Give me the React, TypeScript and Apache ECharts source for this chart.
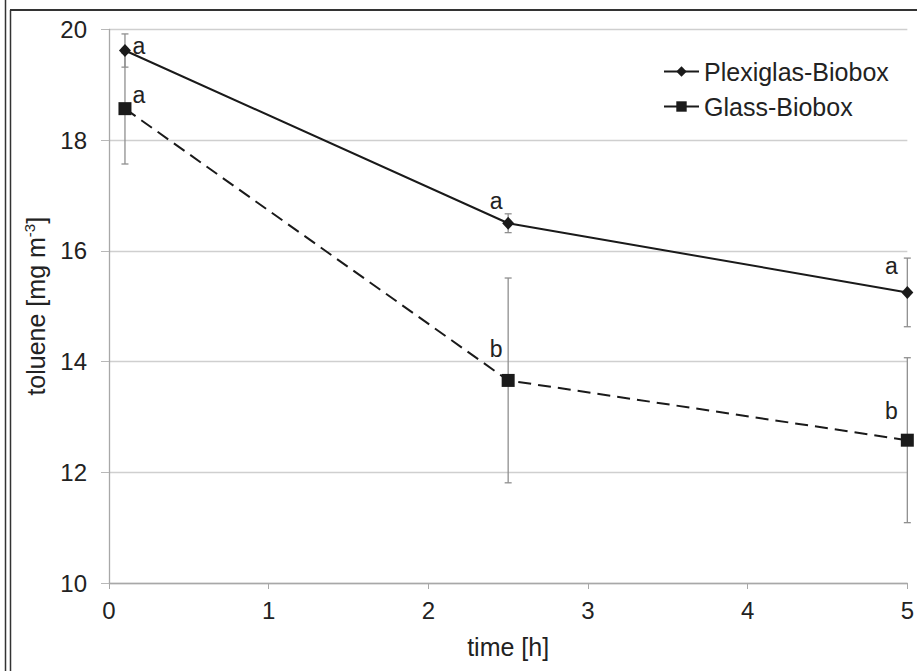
import React, { useEffect, useRef } from "react";
import * as echarts from "echarts";

const xValues = [0.1, 2.5, 5];
const plexiMean = [19.62, 16.5, 15.25];
const plexiErr = [0.3, 0.17, 0.62];
const glassMean = [18.57, 13.66, 12.58];
const glassErr = [1.0, 1.85, 1.49];
const plexiLetters = ["a", "a", "a"];
const glassLetters = ["a", "b", "b"];
const seriesNames = ["Plexiglas-Biobox", "Glass-Biobox"];
const xAxisTitle = "time [h]";

const plexiOffsets = [[14, -5], [-12, -22], [-16, -26]];
const glassOffsets = [[14, -14], [-12, -31], [-16, -29]];

const FONT = "'Liberation Sans', Arial, sans-serif";
const TEXT = "#222";

function errRender(params: any, api: any) {
  const x = api.value(0);
  const lo = api.value(1);
  const hi = api.value(2);
  const pLo = api.coord([x, lo]);
  const pHi = api.coord([x, hi]);
  const cap = 3.5;
  const style = { stroke: "#8f8f8f", lineWidth: 1.3 };
  return {
    type: "group",
    children: [
      { type: "line", shape: { x1: pLo[0], y1: pLo[1], x2: pHi[0], y2: pHi[1] }, style },
      { type: "line", shape: { x1: pLo[0] - cap, y1: pLo[1], x2: pLo[0] + cap, y2: pLo[1] }, style },
      { type: "line", shape: { x1: pHi[0] - cap, y1: pHi[1], x2: pHi[0] + cap, y2: pHi[1] }, style },
    ],
  };
}

export default function App() {
  const ref = useRef<HTMLDivElement>(null);
  useEffect(() => {
    if (!ref.current) return;
    const chart = echarts.init(ref.current, undefined, { renderer: "svg" });
    const mkData = (means: number[], letters: string[], offs: number[][]) =>
      xValues.map((x, i) => ({
        value: [x, means[i]],
        label: {
          show: true,
          formatter: letters[i],
          position: "inside",
          offset: offs[i],
          fontSize: 23,
          fontFamily: FONT,
          color: TEXT,
        },
      }));
    const errData = (means: number[], errs: number[]) =>
      xValues.map((x, i) => [x, means[i] - errs[i], means[i] + errs[i]]);
    chart.setOption({
      animation: false,
      backgroundColor: "#fff",
      textStyle: { fontFamily: FONT },
      grid: { left: 109, right: 9, top: 29.5, bottom: 88, containLabel: false },
      legend: {
        orient: "vertical",
        left: 658,
        top: 54,
        itemWidth: 35,
        itemHeight: 13,
        itemGap: 10,
        textStyle: { fontSize: 25, color: TEXT, fontFamily: FONT },
        lineStyle: { type: "solid", width: 2 },
        data: seriesNames,
      },
      xAxis: {
        type: "value",
        min: 0,
        max: 5,
        interval: 1,
        name: xAxisTitle,
        nameLocation: "middle",
        nameGap: 51,
        nameTextStyle: { fontSize: 25, color: TEXT, fontFamily: FONT },
        axisLine: { show: true, lineStyle: { color: "#a8a8a8", width: 1.3 } },
        axisTick: { show: true, length: 6, lineStyle: { color: "#a8a8a8" } },
        axisLabel: { fontSize: 24, color: TEXT, margin: 15, fontFamily: FONT },
        splitLine: { show: false },
      },
      yAxis: {
        type: "value",
        min: 10,
        max: 20,
        interval: 2,
        name: "{a|toluene [mg m}{s|-3}{a|]}",
        nameLocation: "middle",
        nameGap: 60,
        nameRotate: 90,
        nameTextStyle: {
          rich: {
            a: { fontSize: 25, color: TEXT, fontFamily: FONT },
            s: { fontSize: 15, color: TEXT, fontFamily: FONT, padding: [0, 0, 12, 0] },
          },
        },
        axisLine: { show: true, lineStyle: { color: "#a8a8a8", width: 1.3 } },
        axisTick: { show: true, length: 8, lineStyle: { color: "#b8b8b8" } },
        axisLabel: { fontSize: 24, color: TEXT, margin: 22, fontFamily: FONT },
        splitLine: { show: true, lineStyle: { color: "#cfcfcf", width: 1.3 } },
      },
      series: [
        {
          type: "custom",
          name: "err-plexi",
          renderItem: errRender,
          data: errData(plexiMean, plexiErr),
          encode: { x: 0, y: [1, 2] },
          z: 1,
          silent: true,
        },
        {
          type: "custom",
          name: "err-glass",
          renderItem: errRender,
          data: errData(glassMean, glassErr),
          encode: { x: 0, y: [1, 2] },
          z: 1,
          silent: true,
        },
        {
          type: "line",
          name: seriesNames[0],
          data: mkData(plexiMean, plexiLetters, plexiOffsets),
          symbol: "diamond",
          symbolSize: [12, 13],
          showAllSymbol: true,
          itemStyle: { color: "#1a1a1a" },
          lineStyle: { color: "#1a1a1a", width: 2, type: "solid" },
          z: 3,
        },
        {
          type: "line",
          name: seriesNames[1],
          data: mkData(glassMean, glassLetters, glassOffsets),
          symbol: "rect",
          symbolSize: 13,
          showAllSymbol: true,
          itemStyle: { color: "#1a1a1a" },
          lineStyle: { color: "#1a1a1a", width: 2, type: [13, 7] },
          z: 3,
        },
      ],
      graphic: [
        { type: "line", shape: { x1: 5.5, y1: 0, x2: 5.5, y2: 671 }, style: { stroke: "#333", lineWidth: 1.5 } },
        { type: "line", shape: { x1: 10.5, y1: 10, x2: 10.5, y2: 671 }, style: { stroke: "#333", lineWidth: 1.5 } },
        { type: "line", shape: { x1: 10, y1: 10, x2: 917, y2: 10 }, style: { stroke: "#333", lineWidth: 2 } },
      ],
    });
    return () => chart.dispose();
  }, []);
  return (
    <div
      ref={ref}
      style={{ position: "absolute", left: 0, top: 0, width: 917, height: 671 }}
    />
  );
}
